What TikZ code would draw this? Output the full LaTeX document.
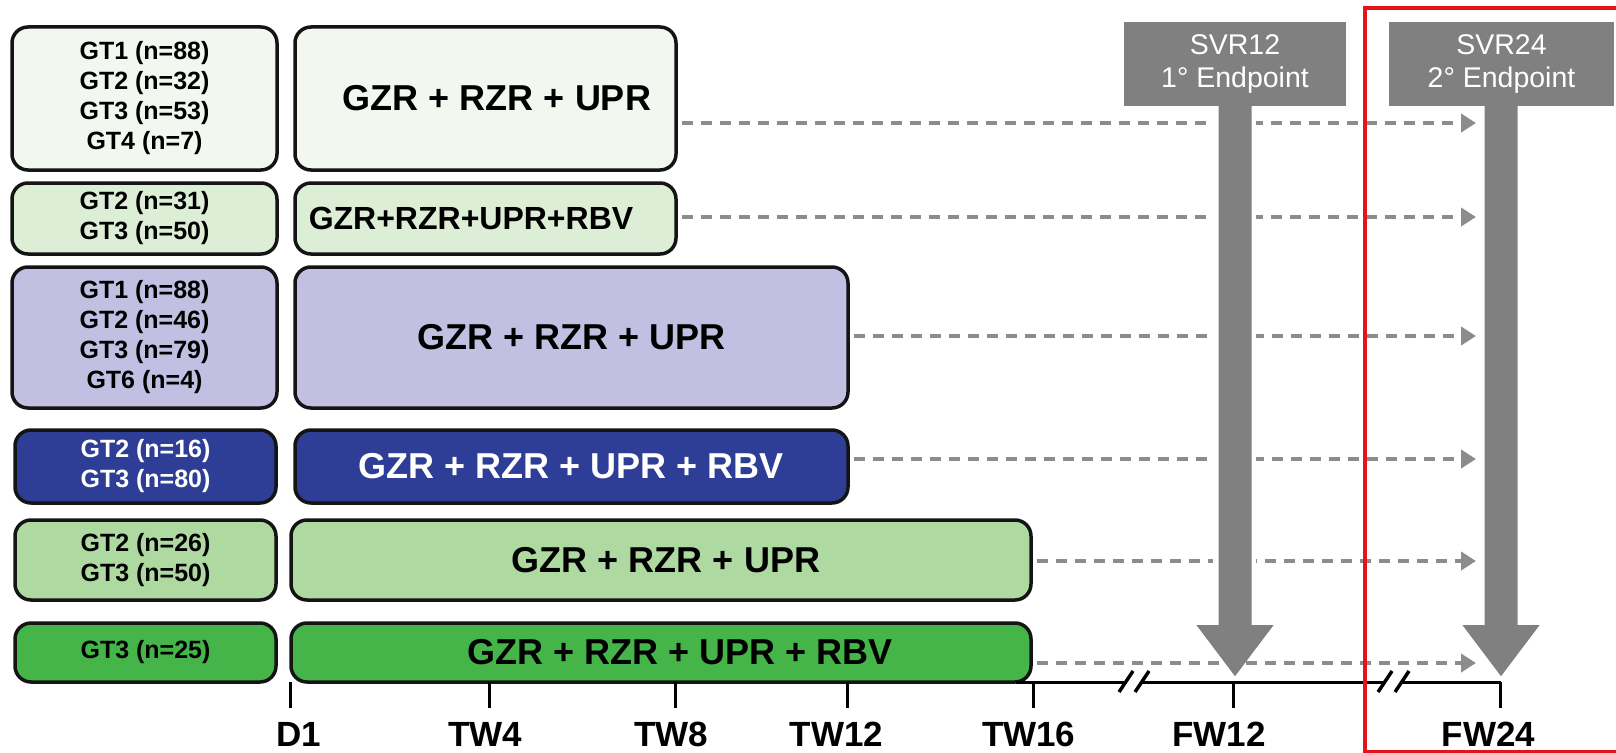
\documentclass[tikz,border=0pt]{standalone}
\usepackage{fontspec}
\setmainfont{Liberation Sans}
\usetikzlibrary{arrows.meta,calc}
\definecolor{cOne}{HTML}{F2F8EF}
\definecolor{cTwo}{HTML}{DDEED6}
\definecolor{cThree}{HTML}{C1BFE2}
\definecolor{cFour}{HTML}{2E3E96}
\definecolor{cFive}{HTML}{AEDAA2}
\definecolor{cSix}{HTML}{45B54A}
\definecolor{dashgray}{HTML}{8C8C8C}
\definecolor{endgray}{HTML}{808080}
\definecolor{frameRed}{HTML}{E3141B}
\begin{document}
\begin{tikzpicture}[x=1pt,y=-1pt,
  box/.style={draw=black!92, line width=3.5pt, rounded corners=16pt, inner sep=0pt, align=center},
  gtfont/.style={font=\fontsize{25}{30}\selectfont\bfseries},
  rxfont/.style={font=\fontsize{36}{40}\selectfont\bfseries},
  rxsmall/.style={font=\fontsize{32}{36}\selectfont\bfseries},
  dasharrow/.style={draw=dashgray, line width=4pt, dash pattern=on 11pt off 8pt, -{Triangle[length=15pt,width=18pt]}, shorten <=4pt},
  endbox/.style={fill=endgray, text=white, inner sep=0pt, align=center, font=\fontsize{28.5}{33.5}\selectfont},
  axisline/.style={draw=black, line width=3pt},
  tickline/.style={draw=black, line width=3pt},
  ticklabel/.style={font=\fontsize{35}{38}\selectfont\bfseries, inner sep=0pt},
  breakslash/.style={draw=black, line width=3.5pt}
]
\useasboundingbox (0,0) rectangle (1616,752);
\fill[white] (0,0) rectangle (1616,752);

% left boxes
\node[box, gtfont, fill=cOne, minimum width=265pt, minimum height=143pt] (L1) at (144.5,98.5) {GT1 (n=88)\\GT2 (n=32)\\GT3 (n=53)\\GT4 (n=7)};
\node[box, gtfont, fill=cTwo, minimum width=265pt, minimum height=71pt] (L2) at (144.5,218.5) {GT2 (n=31)\\GT3 (n=50)};
\node[box, gtfont, fill=cThree, minimum width=265pt, minimum height=141pt] (L3) at (144.5,337.5) {GT1 (n=88)\\GT2 (n=46)\\GT3 (n=79)\\GT6 (n=4)};
\node[box, gtfont, fill=cFour, text=white, minimum width=261pt, minimum height=73pt] (L4) at (145.5,466.5) {GT2 (n=16)\\GT3 (n=80)};
\node[box, gtfont, fill=cFive, minimum width=261pt, minimum height=80pt] (L5) at (145.5,560) {GT2 (n=26)\\GT3 (n=50)};
\node[box, gtfont, fill=cSix, minimum width=261pt, minimum height=59pt] (L6) at (145.5,652.5) {GT3 (n=25)};

% right boxes
\node[box, rxfont, fill=cOne, minimum width=381pt, minimum height=143pt] (R1) at (485.5,98.5) {\hbox{\kern23pt GZR + RZR + UPR}};
\node[box, rxsmall, fill=cTwo, minimum width=381pt, minimum height=71pt] (R2) at (485.5,218.5) {\hbox{GZR+RZR+UPR+RBV\kern29pt}};
\node[box, rxfont, fill=cThree, minimum width=553pt, minimum height=141pt] (R3) at (571.5,337.5) {GZR + RZR + UPR};
\node[box, rxfont, fill=cFour, text=white, minimum width=553pt, minimum height=73pt] (R4) at (571.5,466.5) {GZR + RZR + UPR + RBV};
\node[box, rxfont, fill=cFive, minimum width=740pt, minimum height=80pt] (R5) at (661,560) {\hbox{\kern10pt GZR + RZR + UPR}};
\node[box, rxfont, fill=cSix, minimum width=740pt, minimum height=59pt] (R6) at (661,652.5) {\hbox{\kern38pt GZR + RZR + UPR + RBV}};

% arrow end points
\coordinate (E1) at (1476,123);
\coordinate (E2) at (1476,217);
\coordinate (E3) at (1476,336);
\coordinate (E4) at (1476,459);
\coordinate (E5) at (1476,561);
\coordinate (E6) at (1476,663);
\draw[dasharrow] (R1.east |- E1) -- (E1);
\draw[dasharrow] (R2.east |- E2) -- (E2);
\draw[dasharrow] (R3.east |- E3) -- (E3);
\draw[dasharrow] (R4.east |- E4) -- (E4);
\draw[dasharrow] (R5.east |- E5) -- (E5);
\draw[dasharrow] (R6.east |- E6) -- (E6);

% endpoint boxes and big arrows
\node[endbox, minimum width=222pt, minimum height=84pt] (S12) at (1235,64) {SVR12\\1° Endpoint};
\node[endbox, minimum width=225pt, minimum height=84pt] (S24) at (1501.5,64) {SVR24\\2° Endpoint};
\fill[white] ($(S12.south)+(-22,0)$) rectangle ($(S12.south)+(21,516)$);
\fill[endgray] ($(S12.south)+(-16.5,-1)$) -- ($(S12.south)+(16.5,-1)$) -- ($(S12.south)+(16.5,519)$) -- ($(S12.south)+(38.5,519)$) -- ($(S12.south)+(0,570)$) -- ($(S12.south)+(-38.5,519)$) -- ($(S12.south)+(-16.5,519)$) -- cycle;
\fill[endgray] ($(S24.south)+(-17,-1)$) -- ($(S24.south)+(16,-1)$) -- ($(S24.south)+(16,519)$) -- ($(S24.south)+(38,519)$) -- ($(S24.south)+(-0.5,570)$) -- ($(S24.south)+(-39,519)$) -- ($(S24.south)+(-17,519)$) -- cycle;

% time axis
\coordinate (T0) at (290.6,682);
\coordinate (T1) at (489.5,682);
\coordinate (T2) at (675,682);
\coordinate (T3) at (847,682);
\coordinate (T4) at (1033.7,682);
\coordinate (T5) at (1233,682);
\coordinate (T6) at (1500.5,682);
\draw[axisline] (1016,682) -- (T6);
\foreach \t in {T0,T1,T2,T3,T4,T5,T6}{
  \draw[tickline] (\t) -- ++(0,26);
}
% axis breaks
\draw[white, line width=6pt] (1127,682) -- (1141,682);
\draw[breakslash] (1119,692) -- (1133,671);
\draw[breakslash] (1135,692) -- (1149,671);
\draw[white, line width=6pt] (1386,682) -- (1401,682);
\draw[breakslash] (1378,692) -- (1392,671);
\draw[breakslash] (1395,692) -- (1409,671);

\node[ticklabel] (D1) at ($(T0)+(8,52)$) {D1};
\node[ticklabel] (TW4) at ($(T1)+(-4,52)$) {TW4};
\node[ticklabel] (TW8) at ($(T2)+(-3.5,52)$) {TW8};
\node[ticklabel] (TW12) at ($(T3)+(-10.5,52)$) {TW12};
\node[ticklabel] (TW16) at ($(T4)+(-5,52)$) {TW16};
\node[ticklabel] (FW12) at ($(T5)+(-14,52)$) {FW12};
\node[ticklabel] (FW24) at ($(T6)+(-12,52)$) {FW24};

% red frame
\draw[frameRed, line width=4.5pt] (1630,8) -- (1365,8) -- (1365,752) -- (1630,752);
\end{tikzpicture}
\end{document}
